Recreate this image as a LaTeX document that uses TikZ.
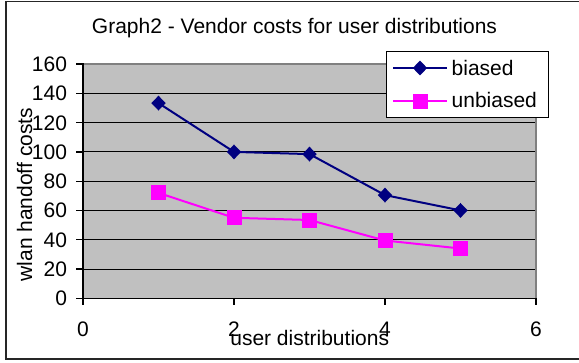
\documentclass[tikz,border=0pt]{standalone}
\usepackage{fontspec}
\setmainfont{Liberation Sans}
\usetikzlibrary{shapes.geometric}
\definecolor{plotgray}{HTML}{C0C0C0}
\definecolor{bordergray}{HTML}{808080}
\definecolor{navyc}{HTML}{000080}
\definecolor{magentac}{HTML}{FF00FF}
\tikzset{
  lbl/.style={font=\fontsize{21}{25}\selectfont, inner sep=0pt, outer sep=0pt},
  ylbl/.style={lbl, anchor=base east},
  xlbl/.style={lbl, anchor=base},
  gridln/.style={draw=black, line width=0.9pt},
  axisln/.style={draw=black, line width=1.3pt},
  biasline/.style={draw=navyc, line width=2pt},
  unbiasline/.style={draw=magentac, line width=2pt},
  dia/.style={shape=diamond, fill=navyc, draw=none, minimum width=14.5pt, minimum height=15pt, inner sep=0pt},
  sq/.style={shape=rectangle, fill=magentac, draw=none, minimum size=15pt, inner sep=0pt},
}
\begin{document}
\begin{tikzpicture}[x=1pt,y=-1pt]
\useasboundingbox (0,0) rectangle (579,362);
% outer frame
\draw[line width=1.5pt, black!85] (6,1.5) rectangle (600,359);
% title
\node[xlbl] (title) at (294.5,33.5) {Graph2 - Vendor costs for user distributions};
% plot area
\fill[plotgray] (83,64) rectangle (536,298.3);
\foreach \v in {20,40,...,140} {
  \draw[gridln] (83,{298.3-1.4644*\v}) -- (536,{298.3-1.4644*\v});
}
\draw[draw=bordergray, line width=2pt] (83,64) -- (536,64) -- (536,298.3);
% axes
\draw[axisln] (83,63) -- (83,305);
\draw[axisln] (76,298.3) -- (536,298.3);
\foreach \v in {0,20,...,160} {
  \draw[axisln] (76,{298.3-1.4644*\v}) -- (83,{298.3-1.4644*\v});
  \node[ylbl] (y\v) at (67,{298.3-1.4644*\v+7.5}) {\v};
}
\foreach \u in {0,2,4,6} {
  \draw[axisln] ({83+75.5*\u},298.3) -- ({83+75.5*\u},305);
  \node[xlbl] (x\u) at ({83+75.5*\u},336.8) {\u};
}
% axis titles
\node[xlbl] (xtitle) at (309.7,345.5) {user distributions};
\node[lbl, anchor=base, rotate=90] (ytitle) at (32,194.7) {wlan handoff costs};
% data
\coordinate (b1) at (158.5,103.1);
\coordinate (b2) at (234,151.9);
\coordinate (b3) at (309.5,154.1);
\coordinate (b4) at (385,195.1);
\coordinate (b5) at (460.5,210.4);
\coordinate (u1) at (158.5,192.9);
\coordinate (u2) at (234,217.8);
\coordinate (u3) at (309.5,220.0);
\coordinate (u4) at (385,240.5);
\coordinate (u5) at (460.5,248.5);
\draw[biasline] (b1) -- (b2) -- (b3) -- (b4) -- (b5);
\draw[unbiasline] (u1) -- (u2) -- (u3) -- (u4) -- (u5);
\foreach \i in {1,...,5} {
  \node[dia] (mb\i) at (b\i) {};
  \node[sq] (mu\i) at (u\i) {};
}
% legend
\node[draw=black, line width=1pt, fill=white, minimum width=162.6pt, minimum height=66.6pt, inner sep=0pt, anchor=north west] (legend) at (385.7,50.7) {};
\coordinate (lb1) at (393,68);
\coordinate (lb2) at (446.7,68);
\coordinate (lu1) at (393,101);
\coordinate (lu2) at (446.7,101);
\draw[biasline] (lb1) -- (lb2);
\draw[unbiasline] (lu1) -- (lu2);
\node[dia] (lbm) at (420,68) {};
\node[sq] (lum) at (420,101) {};
\node[lbl, anchor=base west] (lbt) at (451.7,75.3) {biased};
\node[lbl, anchor=base west] (lut) at (451.7,107.5) {unbiased};
\end{tikzpicture}
\end{document}
